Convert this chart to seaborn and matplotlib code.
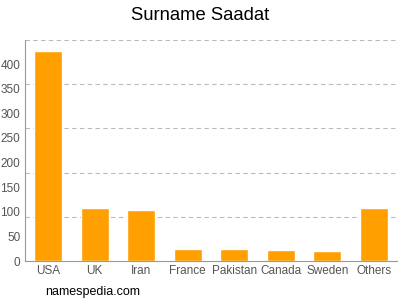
import matplotlib
matplotlib.use("Agg")
import matplotlib.pyplot as plt
import seaborn as sns
import pandas as pd

countries = ["USA", "UK", "Iran", "France", "Pakistan", "Canada", "Sweden", "Others"]
counts = [426, 107, 103, 25, 24, 22, 20, 108]
yticks = [0, 50, 100, 150, 200, 250, 300, 350, 400]
ymax = 449

df = pd.DataFrame({"country": countries, "count": counts})

sns.set_style("white")
plt.rcParams["font.family"] = ["Liberation Sans", "DejaVu Sans"]

fig = plt.figure(figsize=(4, 3), dpi=100)
ax = fig.add_axes([0.0625, 0.13, 0.93, 0.737])
sns.barplot(data=df, x="country", y="count", color="#FFA000", saturation=1, width=0.6, ax=ax)

ax.set_ylim(0, ymax)
ax.set_xlim(-0.5, len(countries) - 0.5)
for k in range(1, 6):
    ax.axhline(ymax * k / 5, color="#BBBBBB", linestyle=(0, (4, 3)), linewidth=0.8, zorder=0)
ax.set_yticks(yticks)
ax.set_xlabel("")
ax.set_ylabel("")
ax.tick_params(axis="both", colors="#555555", labelsize=8.5, width=0.8)
ax.tick_params(axis="y", length=2.5, pad=0.8)
ax.tick_params(axis="x", length=0, pad=3)
for s in ["top", "right"]:
    ax.spines[s].set_visible(False)
for s in ["left", "bottom"]:
    ax.spines[s].set_color("#999999")
    ax.spines[s].set_linewidth(0.8)

fig.text(0.5, 0.95, "Surname Saadat", ha="center", va="center", fontsize=13.3, color="#000000")
fig.text(0.1125, 0.027, "namespedia.com", ha="left", va="center", fontsize=9, color="#000000")

fig.savefig("out.png", dpi=100)
